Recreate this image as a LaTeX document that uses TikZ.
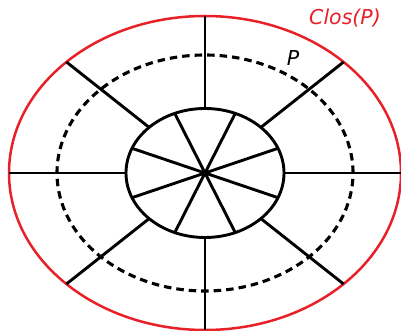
\documentclass[tikz,border=0pt]{standalone}
\usepackage{fontspec}
\newfontfamily\labelfont{DejaVu Sans}
\usetikzlibrary{positioning, calc}
\definecolor{closred}{RGB}{232,32,40}

\begin{document}
\begin{tikzpicture}[
		x=1pt, y=1pt,
		spoke/.style={line width=2.9pt},
		rim/.style={line width=2.9pt},
		inner rim/.style={line width=3.1pt, dash pattern=on 7.5pt off 5pt},
		closure/.style={closred, line width=2.5pt},
		lbl/.style={font=\labelfont\itshape\fontsize{20.5}{24}\selectfont, inner sep=0pt}
		]
		\useasboundingbox (0, 0) rectangle (401, 331);
		
		% ==========================================
		% 1. The three ellipses
		% ==========================================
		\coordinate (c) at (205, 158);
		\draw[closure] (c) ellipse [x radius=196, y radius=157];
		\draw[inner rim] (c) ellipse [x radius=148, y radius=118];
		\draw[rim] (c) ellipse [x radius=79, y radius=64.5];
		
		% ==========================================
		% 2. Spokes
		% ==========================================
		% outer spokes, from the small ellipse to Clos(P)
		\foreach \t [count=\i] in {0, 45, ..., 315} {
			\coordinate (in\i) at ($(c) + ({79*cos(\t)}, {64.5*sin(\t)})$);
			\coordinate (out\i) at ($(c) + ({196*cos(\t)}, {157*sin(\t)})$);
			\draw[spoke] (in\i) -- (out\i);
		}
		% inner spokes, from the centre to the small ellipse
		\foreach \t [count=\i] in {22.5, 67.5, ..., 337.5} {
			\coordinate (r\i) at ($(c) + ({79*cos(\t)}, {64.5*sin(\t)})$);
			\draw[spoke] (c) -- (r\i);
		}
		
		% Labels
		\node[lbl, text=closred] (clos) at (345, 313) {Clos(P)};
		\node[lbl] (p) at (293, 272.5) {P};
		
\end{tikzpicture}
\end{document}
